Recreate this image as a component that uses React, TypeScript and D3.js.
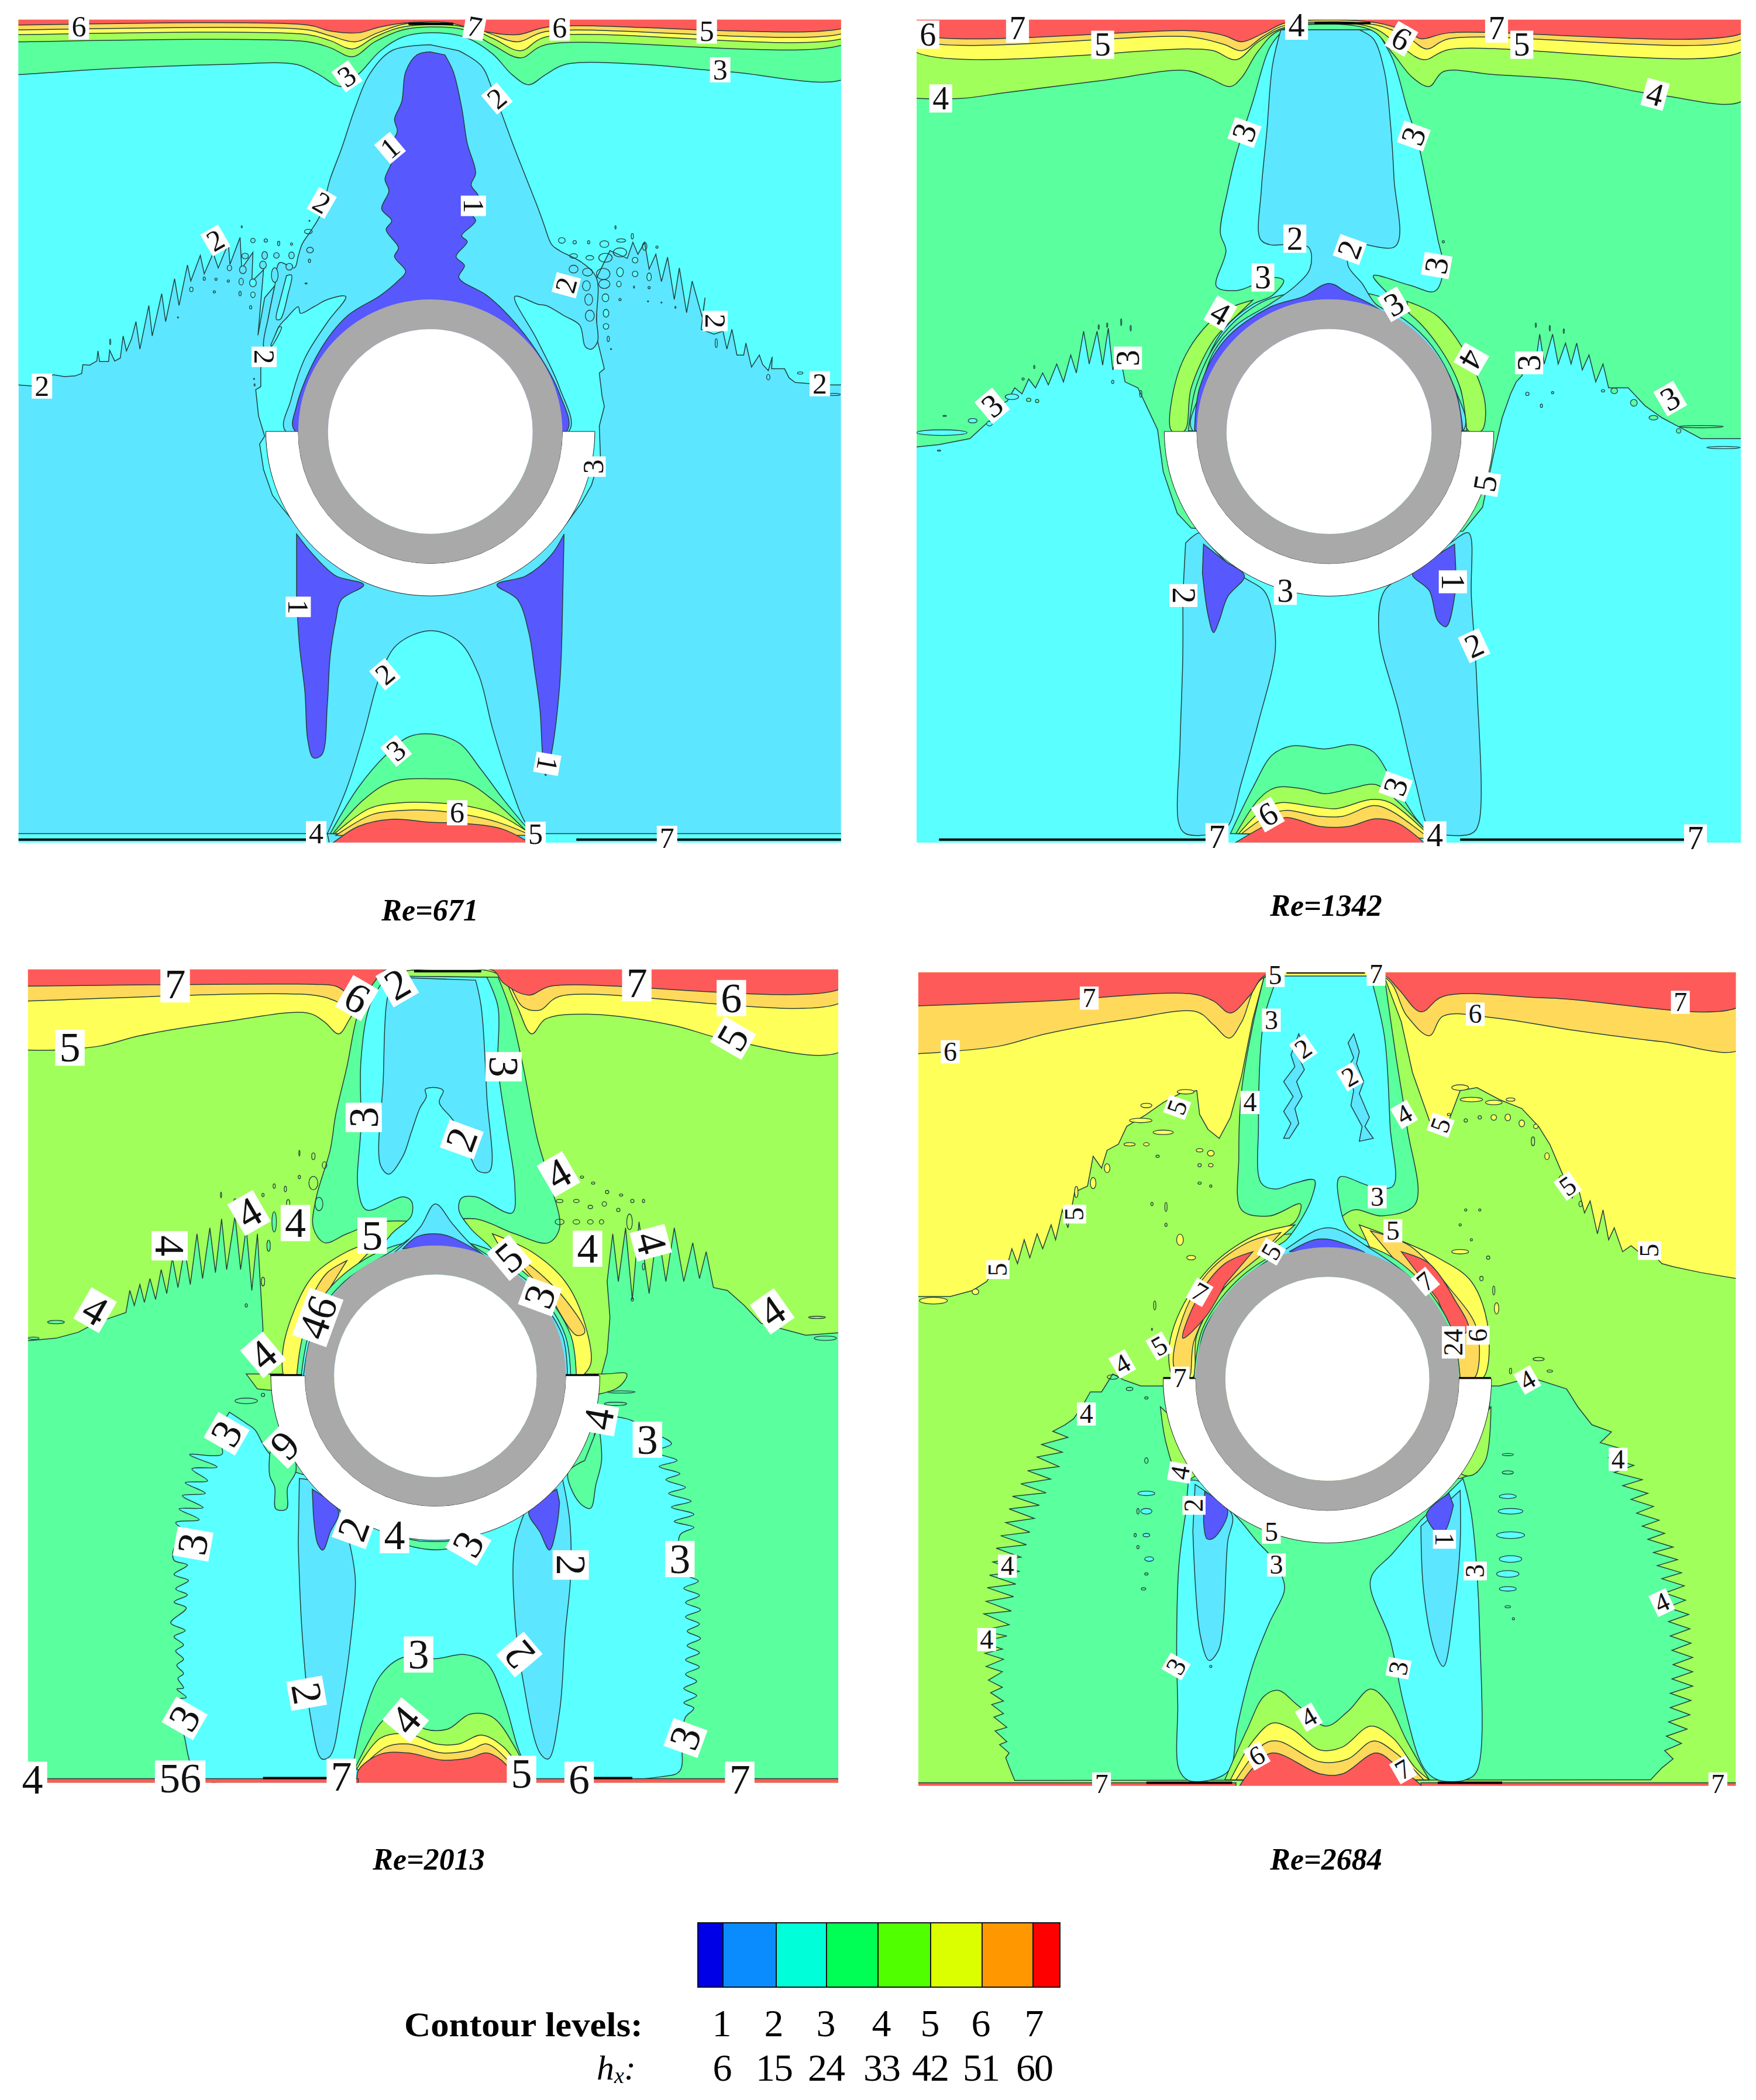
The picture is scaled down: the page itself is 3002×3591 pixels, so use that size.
import * as d3 from 'd3';

// Contour bands, low to high. Band n sits between contour levels n and n + 1.
const bandFills = ['#5858ff', '#5ce6ff', '#5affff', '#5aff9e', '#a0ff5a', '#ffff5a', '#ffd95a', '#ff5a5a'];
const legendFills = ['#0000e6', '#0a8cff', '#00ffd8', '#00ff55', '#50ff00', '#dcff00', '#ff9800', '#ff0000'];
const legendEdges = [1193, 1236, 1327, 1413, 1501, 1591, 1679, 1766, 1812];
const contourLevels = ['1', '2', '3', '4', '5', '6', '7'];
const hxValues = ['6', '15', '24', '33', '42', '51', '60'];
const legendTickX = [1234, 1323, 1412, 1507, 1590, 1677, 1768];

type Contour = { band: number; pts: number[]; sharp?: boolean };

// Coordinates below on a 0-1568 grid.
const re671Contours: Contour[] = [
  { band: 2, sharp: true, pts: [20,20, 20,645, 31,645, 60,647, 95,628, 115,631, 134,630, 146,626, 148,611, 160,612, 173,605, 175,588, 178,606, 194,606, 196,587, 205,605, 215,600, 220,563, 226,588, 235,568, 243,539, 250,585, 266,512, 272,563, 289,492, 296,539, 312,467, 320,512, 335,444, 341,471, 358,428, 365,459, 381,424, 390,449, 408,408, 411,443, 429,398, 432,450, 452,423, 450,472, 471,452, 461,562, 473,499, 491,479, 480,530, 473,578, 466,618, 466,648, 457,653, 462,697, 473,731, 464,744, 471,787, 487,830, 505,852, 530,880, 769,900, 1010,880, 1039,843, 1057,813, 1073,764, 1071,714, 1080,681, 1076,664, 1071,625, 1080,618, 1068,572, 1066,535, 1066,466, 1090,420, 1121,433, 1131,406, 1140,426, 1152,406, 1160,451, 1172,426, 1182,472, 1193,431, 1205,502, 1214,449, 1227,524, 1237,471, 1255,532, 1260,499, 1253,552, 1276,560, 1292,555, 1299,585, 1308,552, 1317,595, 1329,595, 1333,575, 1343,615, 1357,595, 1363,611, 1373,621, 1380,598, 1379,618, 1402,618, 1410,633, 1421,641, 1447,643, 1485,645, 1520,645, 1520,20] },
  { band: 1, pts: [769,75, 700,85, 660,125, 635,180, 610,250, 590,300, 572,361, 554,389, 540,409, 533,429, 526,449, 500,440, 491,479, 480,530, 471,580, 478,590, 485,580, 498,548, 513,532, 533,514, 537,525, 561,514, 585,502, 618,497, 585,540, 545,600, 520,670, 510,722, 769,740, 1017,722, 1000,650, 960,570, 920,497, 962,510, 976,512, 1008,529, 1036,545, 1046,581, 1057,585, 1068,572, 1066,535, 1066,466, 1040,440, 1000,420, 986,410, 972,376, 962,350, 920,250, 880,150, 860,110, 820,85] },
  { band: 2, pts: [512,462, 521,461, 515,492, 501,535, 494,535, 498,512] },
  { band: 2, pts: [498,548, 503,548, 485,580, 484,578] },
  { band: 0, pts: [769,87, 745,92, 725,120, 718,170, 705,200, 710,220, 695,250, 700,270, 688,300, 695,320, 682,350, 700,370, 690,385, 712,415, 705,430, 725,455, 712,470, 680,495, 620,530, 570,590, 530,680, 527,722, 769,740, 1013,722, 1000,660, 960,590, 910,530, 870,495, 820,465, 830,445, 815,430, 835,405, 825,395, 850,370, 835,350, 855,330, 842,310, 850,290, 835,240, 825,180, 810,120, 795,92] },
  { band: 0, pts: [530,895, 560,930, 600,965, 650,980, 610,1005, 600,1040, 590,1100, 585,1180, 575,1265, 560,1270, 550,1240, 545,1160, 535,1080, 530,1000] },
  { band: 0, pts: [1008,895, 985,930, 940,965, 888,980, 925,1005, 945,1060, 955,1120, 965,1190, 970,1270, 975,1300, 985,1265, 1000,1150, 1005,1030] },
  { band: 3, pts: [20,20, 20,125, 33,125, 200,115, 400,108, 530,108, 570,125, 610,145, 640,125, 680,85, 720,62, 769,55, 830,62, 880,90, 915,125, 945,142, 975,125, 1010,108, 1150,108, 1300,120, 1520,126, 1520,20] },
  { band: 4, pts: [20,20, 20,70, 33,70, 550,70, 590,80, 630,95, 670,70, 720,50, 769,45, 830,50, 880,75, 930,97, 975,75, 1520,68, 1520,20] },
  { band: 5, pts: [20,20, 20,58, 33,58, 550,58, 590,68, 630,82, 670,62, 720,45, 830,45, 880,64, 930,85, 975,62, 1520,58, 1520,20] },
  { band: 6, pts: [20,20, 20,50, 33,50, 550,50, 590,60, 635,70, 675,55, 725,40, 830,40, 875,56, 925,70, 975,53, 1520,50, 1520,20] },
  { band: 7, pts: [20,20, 20,42, 33,42, 550,42, 590,52, 640,55, 680,45, 730,38, 800,38, 860,52, 925,58, 980,45, 1520,42, 1520,20] },
  { band: 2, pts: [585,1397, 620,1320, 650,1230, 680,1130, 710,1080, 769,1057, 820,1075, 855,1130, 880,1220, 910,1310, 940,1380, 960,1397] },
  { band: 3, pts: [590,1397, 640,1320, 690,1265, 730,1235, 769,1230, 820,1245, 860,1290, 900,1340, 945,1390, 955,1397] },
  { band: 4, pts: [595,1397, 650,1340, 700,1310, 769,1305, 830,1310, 880,1340, 945,1397] },
  { band: 5, pts: [598,1397, 660,1355, 720,1345, 769,1345, 830,1350, 890,1365, 948,1397] },
  { band: 6, pts: [600,1400, 665,1365, 720,1358, 769,1358, 830,1365, 890,1378, 950,1400] },
  { band: 7, pts: [585,1420, 640,1385, 700,1373, 769,1378, 830,1380, 900,1390, 960,1420] },
  { band: 2, sharp: true, pts: [20,1397, 585,1397, 590,1420, 20,1420] },
  { band: 2, sharp: true, pts: [955,1397, 1520,1397, 1520,1420, 955,1420] },
];
const re671Specks = [
  [432,380,1,2], [452,403,4,4,1], [475,403,3,3,1], [498,408,2,4,1], [521,409,2,2], [553,370,1,1], [551,388,7,4], [554,419,6,5], [553,437,2,3], [521,428,5,6,1], [494,428,5,5,1], [517,447,6,6,1], [491,461,6,13,1], [473,428,5,7,1], [470,444,6,7,1], [438,429,6,5,1], [434,452,6,7,1], [431,472,4,6,1], [452,474,6,7,2], [452,494,4,5,2], [429,492,2,4], [410,449,4,5,1], [365,467,2,3], [386,468,2,2], [408,471,2,2], [342,485,3,4,2], [383,489,2,2], [448,515,2,3,2], [318,532,1,1], [197,573,1,5], [454,635,1,1], [455,645,1,2], [547,475,2,1],
  [1004,403,6,5], [1027,406,3,3], [1052,406,2,3], [1025,429,7,4], [1054,432,7,4], [1025,451,8,7], [1050,456,9,7], [1048,479,7,9], [1052,502,7,10], [1054,529,8,10], [1080,409,8,6], [1082,432,12,8], [1078,459,12,10], [1080,476,10,8], [1082,499,6,7,2], [1083,525,5,7,2], [1083,547,5,5,2], [1087,568,2,5], [1092,585,1,1], [1110,403,8,3], [1108,423,12,8], [1108,456,6,8,2], [1106,476,4,5,2], [1135,436,5,5,2], [1135,459,5,5,2], [1160,464,4,7,2], [1130,396,2,5], [1152,413,4,7], [1174,414,2,2], [1160,482,2,2], [1133,481,1,2], [1158,505,1,1], [1182,507,1,1], [1207,515,1,2], [1108,502,2,2], [1100,381,1,3], [1430,625,5,2], [1373,632,3,5], [1280,575,2,8], [1490,661,12,2],
];
const re671Lines = [[33,1407,550,1407], [1030,1407,1503,1407], [730,40,810,40]];
const re671Labels: [string, number, number, number][] = [
  ['6',141,45,0], ['7',848,45,10], ['6',1000,47,0], ['5',1263,52,0], ['3',1287,117,0], ['3',620,128,-35], ['2',888,165,-40], ['1',697,248,-40], ['2',575,340,30], ['1',846,345,90], ['2',385,403,-30], ['2',1012,478,-75], ['2',1278,538,90], ['2',472,598,90], ['2',75,647,0], ['2',1465,643,0], ['3',1060,782,-90], ['1',533,1017,90], ['2',688,1130,-40], ['3',708,1258,-40], ['6',817,1362,0], ['1',978,1280,100], ['4',565,1397,0], ['5',957,1398,0], ['7',1192,1405,0],
];

const re1342Contours: Contour[] = [
  { band: 2, sharp: true, pts: [60,750, 110,745, 165,735, 200,705, 215,680, 232,672, 245,650, 258,660, 270,635, 282,650, 295,625, 305,645, 320,610, 332,640, 345,595, 355,625, 368,555, 378,610, 392,555, 402,612, 412,550, 420,620, 432,590, 442,640, 465,650, 480,680, 500,720, 510,790, 535,860, 560,885, 806,900, 1045,890, 1080,850, 1100,760, 1115,700, 1130,660, 1140,640, 1150,630, 1162,600, 1172,625, 1182,560, 1190,610, 1205,560, 1215,610, 1228,575, 1238,610, 1248,575, 1258,620, 1270,595, 1282,640, 1295,610, 1305,650, 1340,650, 1370,680, 1400,700, 1430,715, 1470,735, 1550,735, 1550,1425, 60,1425] },
  { band: 2, pts: [725,50, 700,80, 670,170, 640,260, 625,320, 612,390, 622,420, 605,480, 640,487, 665,480, 700,465, 725,470, 705,495, 670,510, 620,550, 590,600, 575,660, 565,722, 1042,722, 1030,640, 1000,580, 950,530, 925,505, 885,462, 950,478, 995,488, 1010,450, 1000,400, 985,330, 965,240, 945,180, 920,100, 890,50] },
  { band: 4, pts: [670,503, 620,520, 570,565, 535,630, 525,722, 548,722, 560,650, 600,570, 640,530] },
  { band: 4, pts: [945,505, 1000,530, 1060,610, 1085,680, 1078,722, 1055,722, 1040,650, 1000,580, 950,530] },
  { band: 3, pts: [555,722, 568,650, 605,575, 655,525, 720,495, 890,495, 955,530, 1005,585, 1040,650, 1052,722] },
  { band: 1, pts: [720,50, 705,110, 695,220, 685,320, 683,400, 700,410, 730,410, 770,415, 772,450, 745,480, 700,510, 640,545, 600,590, 575,660, 563,722, 1045,722, 1030,650, 990,580, 940,535, 890,510, 865,475, 840,445, 845,410, 925,412, 922,300, 915,200, 905,120, 885,65, 860,50] },
  { band: 0, pts: [566,722, 575,650, 620,570, 700,515, 760,497, 806,475, 838,490, 890,515, 980,580, 1030,650, 1045,722] },
  { band: 4, pts: [60,20, 60,165, 70,165, 150,165, 230,155, 400,135, 550,118, 590,130, 630,145, 650,130, 680,85, 720,50, 880,50, 920,90, 955,130, 985,145, 1010,120, 1100,125, 1250,135, 1400,160, 1550,165, 1550,20] },
  { band: 5, pts: [60,20, 60,82, 560,82, 600,85, 640,100, 680,70, 730,45, 880,45, 930,75, 975,100, 1020,83, 1550,82, 1550,20] },
  { band: 6, pts: [60,20, 60,62, 560,62, 620,75, 650,85, 690,60, 730,42, 890,42, 950,65, 980,82, 1020,65, 1550,62, 1550,20] },
  { band: 7, pts: [60,20, 60,52, 570,52, 620,60, 650,70, 690,55, 730,38, 890,38, 950,55, 970,65, 1020,55, 1550,52, 1550,20] },
  { band: 1, pts: [550,910, 575,893, 590,910, 650,965, 690,990, 705,1030, 710,1090, 680,1210, 650,1310, 625,1385, 600,1397, 550,1397, 538,1380, 540,1250, 545,1100, 545,1000] },
  { band: 1, pts: [1030,905, 1055,893, 1060,1000, 1070,1150, 1073,1380, 1060,1397, 1000,1397, 985,1390, 960,1310, 930,1190, 895,1060, 905,990, 950,960] },
  { band: 0, pts: [582,912, 620,940, 655,965, 625,1000, 610,1040, 600,1060, 590,1030, 580,960] },
  { band: 0, pts: [1030,912, 1000,930, 955,962, 985,990, 1000,1040, 1015,1050, 1030,1000, 1032,950] },
  { band: 3, pts: [630,1397, 670,1320, 705,1265, 740,1250, 800,1255, 850,1248, 885,1260, 920,1310, 960,1370, 985,1397] },
  { band: 4, pts: [640,1397, 680,1340, 710,1320, 760,1322, 800,1330, 850,1320, 890,1315, 925,1340, 985,1397] },
  { band: 5, pts: [645,1397, 690,1355, 720,1345, 780,1352, 820,1355, 880,1340, 915,1345, 985,1400] },
  { band: 6, pts: [650,1397, 700,1365, 730,1358, 790,1368, 830,1368, 885,1350, 915,1358, 985,1405] },
  { band: 7, pts: [625,1420, 700,1380, 730,1370, 790,1385, 840,1385, 890,1372, 930,1380, 985,1420] },
];
const re1342Specks = [
  [120,697,3,1], [115,725,45,5,2], [110,755,3,1], [170,705,8,4,2], [200,710,5,4,2], [240,665,12,5,2], [270,670,4,3,3], [285,672,3,3,3], [260,635,2,2], [280,615,1,3], [395,548,1,4], [410,545,1,4], [435,540,1,6], [452,550,1,5], [420,640,2,3], [470,660,2,6],
  [1175,545,1,4], [1200,550,1,5], [1225,555,1,4], [1160,660,3,3], [1185,680,2,3], [1205,658,2,2], [1295,655,3,2], [1315,655,6,5,3], [1350,675,6,6,3], [1385,700,8,4,3], [1430,722,4,4,3], [1470,715,40,2], [1510,750,30,2], [1010,405,2,2],
];
const re1342Lines = [[110,1407,590,1407], [1040,1407,1450,1407], [780,39,880,39]];
const re1342Labels: [string, number, number, number][] = [
  ['6',90,58,0], ['7',250,48,0], ['5',402,75,0], ['4',748,43,0], ['6',935,65,30], ['7',1105,48,0], ['5',1150,75,0], ['4',113,165,0], ['4',1388,158,15], ['3',655,222,-70], ['3',957,228,-70], ['2',745,400,0], ['2',843,418,-70], ['3',688,465,0], ['3',998,445,-80], ['4',612,525,30], ['3',922,510,-30], ['4',1060,602,120], ['3',447,600,-90], ['3',1163,608,-90], ['3',205,680,-40], ['3',1415,668,-30], ['5',1085,810,-80], ['2',546,998,90], ['3',728,990,0], ['1',1027,975,90], ['2',1065,1082,-25], ['6',697,1365,-30], ['3',925,1318,-70], ['7',606,1403,0], ['4',995,1400,0], ['7',1460,1405,0],
];

const re2013Contours: Contour[] = [
  { band: 3, sharp: true, pts: [40,660, 100,655, 140,645, 170,630, 200,620, 225,612, 232,575, 240,600, 250,565, 258,595, 268,555, 278,590, 288,540, 298,580, 308,520, 318,570, 330,505, 340,565, 352,480, 362,555, 375,470, 385,545, 396,455, 405,540, 420,450, 430,540, 440,470, 450,575, 460,480, 470,640, 465,690, 480,715, 778,730, 1075,715, 1085,680, 1090,620, 1085,560, 1095,480, 1105,560, 1118,470, 1130,590, 1142,460, 1160,580, 1175,470, 1190,560, 1205,470, 1222,560, 1238,495, 1250,555, 1262,510, 1275,570, 1300,575, 1330,600, 1360,630, 1400,640, 1440,650, 1510,645, 1510,1410, 40,1410] },
  { band: 4, pts: [440,715, 480,715, 1075,715, 1120,715, 1100,740, 778,760, 460,740] },
  { band: 3, pts: [670,48, 640,110, 620,200, 600,280, 590,340, 565,420, 560,470, 580,495, 620,480, 680,460, 778,460, 850,455, 920,480, 980,495, 1000,470, 985,400, 960,320, 935,200, 910,100, 890,50] },
  { band: 2, pts: [690,48, 660,100, 645,190, 645,300, 640,405, 655,440, 720,418, 735,425, 735,450, 700,480, 680,510, 778,500, 880,510, 840,470, 820,440, 825,420, 850,418, 915,445, 920,400, 905,300, 890,200, 890,100, 870,50] },
  { band: 1, pts: [700,50, 690,100, 685,220, 680,365, 695,380, 720,350, 735,310, 750,270, 762,250, 760,238, 778,235, 792,240, 785,260, 810,290, 840,350, 855,375, 875,375, 870,250, 860,100, 850,55] },
  { band: 5, pts: [680,490, 620,510, 560,550, 525,610, 505,680, 510,722, 530,722, 545,650, 580,580, 640,530] },
  { band: 6, pts: [620,525, 585,545, 555,590, 535,640, 550,620, 590,570] },
  { band: 5, pts: [880,480, 950,510, 1010,560, 1045,630, 1055,700, 1030,722, 1015,650, 970,580, 910,530] },
  { band: 6, pts: [915,515, 950,535, 1010,590, 1045,645, 1030,650, 990,595] },
  { band: 3, pts: [530,722, 545,640, 600,560, 690,505, 778,490, 870,505, 960,565, 1020,650, 1030,722] },
  { band: 2, pts: [538,722, 555,640, 610,565, 695,512, 778,470, 865,512, 955,570, 1010,650, 1020,722] },
  { band: 1, pts: [542,722, 560,640, 620,565, 700,515, 750,470, 778,430, 810,465, 850,505, 945,570, 1005,650, 1014,722] },
  { band: 0, pts: [720,505, 745,485, 778,480, 805,485, 860,515, 778,500] },
  { band: 2, pts: [410,779, 439,797, 456,809, 469,831, 482,849, 530,880, 778,900, 1045,870, 1060,830, 1070,790, 1120,790, 1165,812, 1200,832, 1170,845, 1210,860, 1178,870, 1215,882, 1190,892, 1225,905, 1195,915, 1235,928, 1200,938, 1240,950, 1205,962, 1240,972, 1215,985, 1225,1050, 1248,1062, 1222,1074, 1250,1086, 1225,1098, 1252,1110, 1225,1122, 1250,1134, 1228,1146, 1252,1158, 1228,1170, 1250,1182, 1225,1194, 1250,1206, 1225,1218, 1245,1230, 1222,1242, 1245,1254, 1222,1266, 1240,1275, 1225,1290, 1218,1320, 1215,1380, 1180,1390, 350,1390, 337,1357, 331,1329, 318,1261, 333,1257, 316,1243, 328,1241, 318,1225, 328,1217, 316,1203, 328,1193, 314,1179, 328,1169, 311,1155, 331,1145, 305,1132, 333,1107, 311,1097, 335,1085, 314,1075, 337,1061, 311,1051, 335,1035, 311,1027, 311,1007, 337,985, 314,964, 356,959, 320,941, 363,939, 326,919, 367,915, 331,897, 371,894, 343,874, 388,871, 339,850, 397,849, 385,815] },
  { band: 3, pts: [482,849, 482,885, 491,905, 493,941, 512,941, 514,905, 529,877, 520,840, 490,820] },
  { band: 3, pts: [1045,860, 1015,880, 1035,930, 1055,940, 1065,900, 1075,860, 1070,800] },
  { band: 1, pts: [535,890, 575,900, 610,950, 625,1000, 635,1060, 628,1150, 610,1270, 590,1355, 575,1360, 555,1290, 540,1150, 533,1000] },
  { band: 1, pts: [1005,890, 1018,960, 1020,1050, 1010,1150, 1000,1280, 980,1360, 965,1350, 935,1230, 920,1120, 920,1000, 945,930] },
  { band: 0, pts: [558,908, 605,945, 590,980, 577,1010, 568,1000, 560,950] },
  { band: 0, pts: [995,908, 945,945, 965,980, 982,1010, 995,970, 1000,930] },
  { band: 3, pts: [690,985, 740,1005, 800,1008, 860,985, 800,995, 750,995] },
  { band: 5, pts: [20,20, 20,172, 40,172, 100,172, 180,165, 250,148, 400,125, 550,110, 580,125, 605,145, 625,120, 660,60, 690,45, 890,45, 920,90, 950,145, 975,120, 1050,112, 1200,130, 1300,155, 1510,170, 1510,20] },
  { band: 6, pts: [20,20, 20,90, 40,90, 560,80, 600,90, 630,105, 665,60, 690,42, 890,42, 935,100, 965,105, 1000,82, 1510,88, 1510,20] },
  { band: 7, pts: [20,20, 20,65, 40,65, 560,62, 600,65, 640,85, 680,45, 690,38, 880,38, 900,60, 945,80, 985,65, 1510,65, 1510,20] },
  { band: 3, pts: [630,1375, 650,1290, 680,1220, 720,1190, 780,1192, 830,1185, 870,1200, 900,1260, 925,1340, 940,1375] },
  { band: 4, pts: [635,1375, 680,1300, 710,1280, 760,1310, 800,1310, 840,1285, 880,1290, 920,1340, 945,1390] },
  { band: 5, pts: [637,1378, 680,1325, 730,1318, 780,1335, 820,1335, 860,1320, 900,1340, 935,1385] },
  { band: 6, pts: [640,1380, 690,1340, 730,1335, 790,1350, 840,1345, 870,1335, 910,1365, 930,1390] },
  { band: 7, pts: [640,1410, 640,1380, 680,1352, 730,1350, 790,1362, 840,1358, 870,1350, 905,1370, 925,1410] },
  { band: 7, sharp: true, pts: [20,1393, 640,1393, 640,1420, 20,1420] },
  { band: 7, sharp: true, pts: [925,1393, 1520,1393, 1520,1420, 925,1420] },
];
const re2013Specks = [
  [395,415,1,5], [420,425,2,4], [470,415,2,3], [490,400,2,4], [510,405,2,5], [535,385,2,3], [535,345,1,5], [560,350,3,6], [560,395,8,12], [580,365,4,6], [570,430,7,12], [490,460,4,18,3], [515,430,3,8], [480,500,3,10,3], [470,560,3,8], [440,600,2,3],
  [1005,345,1,2], [1020,385,3,2], [1040,385,3,2], [1060,395,3,2], [1085,410,3,3], [1110,415,3,2], [1000,425,6,3], [1030,425,5,3], [1055,435,4,3], [1080,430,4,4], [1105,440,3,3], [1130,425,3,3], [1150,425,2,3], [1000,460,8,5], [1030,460,6,4], [1055,460,5,4], [1075,460,4,4], [1125,460,5,14], [1150,535,2,6], [1130,590,2,3],
  [1460,620,15,2], [1475,655,20,4,3], [100,628,15,3,3], [60,655,10,2,3], [1110,745,25,2], [1100,765,20,3], [440,760,20,5], [470,750,3,3],
];
const re2013Lines = [[470,1392,590,1392], [1060,1392,1130,1392], [740,40,860,40], [483,717,540,717], [1010,717,1070,717]];
const re2013Labels: [string, number, number, number][] = [
  ['7',313,62,0], ['6',638,85,30], ['2',710,62,-30], ['7',1138,60,0], ['6',1307,85,0], ['5',125,168,0], ['5',1310,152,-60], ['3',900,200,90], ['3',650,285,-90], ['2',825,322,-70], ['4',998,380,-30], ['4',445,445,-30], ['4',528,462,0], ['4',303,500,90], ['5',665,483,0], ['5',910,520,-40], ['4',1050,505,0], ['4',1163,495,75], ['4',170,608,30], ['4',1380,610,-35], ['46',568,620,-70], ['3',965,585,-70], ['4',470,683,-40], ['4',1070,790,-80], ['3',405,815,-60], ['3',1157,825,0], ['6',510,835,135], ['2',632,975,-70], ['4',705,985,0], ['3',837,1000,-60], ['2',1020,1035,90], ['3',345,1000,-80], ['3',1215,1025,0], ['3',748,1185,0], ['2',928,1185,-130], ['2',548,1250,80], ['4',725,1295,-50], ['3',330,1292,-60], ['3',1225,1325,-70], ['4',58,1395,0], ['56',322,1393,0], ['7',610,1390,0], ['5',932,1385,0], ['6',1035,1395,0], ['7',1322,1395,0],
];

const re2684Contours: Contour[] = [
  { band: 5, sharp: true, pts: [60,585, 73,585, 130,585, 170,575, 195,560, 215,530, 228,545, 240,505, 250,530, 262,490, 272,520, 285,480, 295,505, 310,465, 318,490, 330,440, 340,470, 352,410, 375,400, 385,350, 400,370, 410,340, 430,330, 445,300, 480,280, 510,260, 540,245, 570,240, 575,280, 590,305, 610,320, 630,285, 650,215, 670,120, 690,50, 905,50, 935,125, 955,210, 985,290, 1000,310, 1020,290, 1040,240, 1070,235, 1110,255, 1150,270, 1180,300, 1200,330, 1225,385, 1240,420, 1250,400, 1262,445, 1272,425, 1285,480, 1295,440, 1305,490, 1315,470, 1330,510, 1345,500, 1365,515, 1380,510, 1400,530, 1420,535, 1470,545, 1545,557, 1545,20, 60,20] },
  { band: 3, pts: [690,50, 670,130, 650,240, 645,350, 650,440, 700,450, 755,430, 745,460, 700,480, 800,470, 850,440, 900,450, 960,430, 945,300, 925,180, 905,50] },
  { band: 2, pts: [715,48, 690,120, 680,300, 685,395, 710,405, 745,395, 780,390, 775,420, 760,450, 730,490, 700,510, 900,510, 840,470, 825,430, 825,385, 880,400, 920,400, 915,300, 905,150, 880,48] },
  { band: 1, sharp: true, pts: [752,145, 760,165, 750,180, 762,205, 748,225, 758,250, 745,270, 752,295, 735,320, 725,320, 738,295, 725,275, 742,250, 725,225, 745,200, 738,180] },
  { band: 1, sharp: true, pts: [850,145, 860,175, 855,195, 868,225, 860,245, 878,285, 870,300, 885,320, 860,325, 865,300, 845,265, 850,240, 838,205, 850,185, 840,160] },
  { band: 5, pts: [745,465, 680,480, 600,530, 540,610, 520,680, 530,722, 562,722, 570,650, 620,570, 690,510] },
  { band: 6, pts: [720,478, 660,495, 590,545, 545,620, 530,705, 555,722, 565,660, 610,580, 680,520] },
  { band: 7, pts: [670,510, 620,530, 570,590, 545,655, 585,620, 620,565] },
  { band: 5, pts: [860,465, 930,490, 1000,520, 1060,560, 1090,640, 1080,722, 1035,722, 1010,640, 960,560, 880,505] },
  { band: 6, pts: [880,475, 950,500, 1020,570, 1070,640, 1065,722, 1040,722, 1030,660, 980,580, 920,520] },
  { band: 7, pts: [935,510, 985,530, 1030,590, 1055,640, 1035,650, 1000,590] },
  { band: 3, pts: [565,722, 580,640, 640,560, 720,510, 804,490, 900,510, 970,560, 1025,640, 1040,722] },
  { band: 1, pts: [569,722, 584,640, 645,563, 725,508, 804,470, 885,508, 968,568, 1020,640, 1037,722] },
  { band: 0, pts: [735,510, 780,490, 810,490, 870,512, 800,505] },
  { band: 3, sharp: true, pts: [510,735, 470,735, 440,725, 420,715, 400,745, 380,745, 365,770, 350,790, 335,800, 313,811, 340,821, 293,833, 330,846, 285,854, 324,870, 268,877, 309,891, 256,899, 301,914, 241,920, 289,935, 235,941, 280,957, 229,964, 272,980, 220,986, 266,1001, 212,1007, 256,1022, 206,1030, 254,1046, 200,1052, 247,1067, 196,1073, 243,1088, 194,1096, 239,1112, 190,1117, 235,1135, 185,1145, 231,1154, 185,1164, 223,1176, 192,1183, 225,1193, 194,1205, 223,1214, 198,1228, 223,1240, 202,1249, 225,1263, 204,1269, 225,1284, 208,1290, 231,1307, 210,1313, 231,1331, 218,1336, 235,1350, 229,1358, 235,1373, 245,1396, 1380,1395, 1400,1375, 1420,1360, 1405,1346, 1435,1334, 1408,1322, 1445,1310, 1412,1298, 1450,1286, 1415,1274, 1452,1262, 1415,1250, 1455,1238, 1418,1226, 1455,1214, 1420,1202, 1455,1190, 1418,1178, 1452,1166, 1415,1154, 1450,1142, 1412,1130, 1448,1118, 1410,1106, 1442,1094, 1405,1082, 1440,1070, 1400,1058, 1435,1048, 1392,1036, 1428,1026, 1385,1014, 1420,1005, 1375,992, 1405,982, 1365,970, 1395,960, 1355,948, 1385,937, 1345,925, 1375,915, 1330,902, 1365,892, 1315,880, 1350,868, 1305,855, 1335,842, 1290,830, 1310,812, 1275,800, 1250,770, 1230,740, 1180,725, 1150,725, 1110,735, 1095,735, 1090,800, 1070,880, 1040,890, 800,900] },
  { band: 4, pts: [505,770, 515,830, 535,880, 560,890, 580,860, 540,800] },
  { band: 4, pts: [1095,770, 1085,860, 1060,885, 1040,880, 1070,800] },
  { band: 2, pts: [555,893, 575,895, 642,955, 679,997, 699,1017, 724,1059, 726,1079, 699,1133, 670,1203, 642,1307, 629,1377, 600,1394, 555,1396, 538,1377, 536,1269, 534,1172, 538,1036, 550,950] },
  { band: 2, pts: [1045,890, 1060,950, 1075,1150, 1070,1380, 1050,1395, 1000,1395, 975,1375, 940,1270, 915,1160, 880,1060, 920,1015, 970,960] },
  { band: 1, pts: [567,900, 590,915, 633,951, 625,997, 617,1133, 608,1179, 592,1195, 576,1152, 563,978] },
  { band: 1, pts: [1040,910, 1040,1000, 1030,1100, 1010,1205, 995,1180, 975,1080, 970,970] },
  { band: 0, pts: [584,912, 625,943, 600,990, 588,991, 582,959] },
  { band: 0, pts: [1020,915, 980,950, 1005,985, 1015,975, 1028,935] },
  { band: 6, pts: [60,20, 60,178, 73,178, 125,175, 220,165, 300,145, 450,120, 570,108, 600,130, 628,152, 650,125, 690,50, 905,50, 945,115, 985,148, 1010,115, 1100,118, 1250,140, 1400,158, 1545,168, 1545,20] },
  { band: 7, pts: [60,20, 60,98, 73,98, 300,90, 560,78, 600,90, 630,110, 665,80, 695,45, 900,45, 930,70, 970,108, 1010,82, 1200,85, 1545,95, 1545,20] },
  { band: 4, pts: [620,1395, 660,1310, 690,1255, 715,1245, 750,1270, 800,1305, 840,1280, 880,1243, 910,1265, 945,1330, 985,1395] },
  { band: 5, pts: [630,1395, 670,1330, 705,1300, 740,1310, 790,1345, 830,1340, 880,1305, 920,1325, 960,1375, 985,1395] },
  { band: 6, pts: [640,1395, 690,1335, 715,1330, 790,1365, 840,1360, 885,1330, 925,1350, 975,1395] },
  { band: 7, pts: [640,1415, 670,1375, 705,1350, 790,1385, 830,1385, 890,1350, 925,1370, 985,1415] },
  { band: 7, sharp: true, pts: [50,1400, 640,1400, 640,1420, 50,1420] },
  { band: 7, sharp: true, pts: [970,1400, 1550,1400, 1550,1420, 970,1420] },
];
const re2684Specks = [
  [550,242,15,4,5], [480,265,10,4,5], [470,290,20,4,5], [510,310,18,4,5], [480,330,5,3,5], [450,330,10,3,5], [410,370,5,8,5], [385,395,5,10,5], [355,410,3,10,5], [500,350,3,2], [575,340,6,3,5], [575,365,3,3], [595,345,6,5,5], [595,365,4,3,5], [575,395,3,2], [595,400,2,2], [515,435,2,8], [490,430,2,3], [515,465,2,3], [495,600,2,8], [490,640,1,2], [540,490,6,10,5], [560,520,8,4,5],
  [1040,235,15,5,5], [1060,255,20,4,5], [1100,260,15,4,5], [1130,255,8,3,5], [1020,280,3,2], [1050,290,3,3], [1075,285,3,3], [1100,285,5,5,5], [1125,285,5,6,5], [1150,295,5,6,5], [1175,300,4,4,5], [1170,325,3,8], [1195,350,4,6,5], [1220,390,4,8,5], [1255,430,3,5], [1050,440,2,2], [1075,440,2,2], [1040,465,2,2], [1060,490,2,2], [1090,520,3,3], [1040,510,15,4,5], [1078,555,3,4], [1105,605,4,10,5], [1100,575,2,8],
  [1125,920,15,4,2], [1130,945,22,5,2], [1130,985,25,6,2], [1130,1025,20,6,2], [1125,1050,20,6,2], [1125,1075,15,4,2], [1125,1105,5,2], [1125,850,10,2], [1125,880,10,3], [1135,1125,2,2],
  [480,915,15,4,2], [480,945,10,5,2], [480,985,6,3,2], [485,1025,8,4,2], [475,1075,4,2], [480,1050,3,2], [460,985,2,3], [465,1005,2,3], [465,945,2,5], [480,860,3,5], [595,1205,2,2],
  [100,592,25,6,5], [175,577,6,5,5], [1180,690,10,3], [1130,710,2,5], [1200,710,5,2], [420,720,10,4], [450,740,6,3], [480,755,3,2],
];
const re2684Lines = [[480,1400,633,1400], [1000,1400,1115,1400], [730,42,870,42], [510,722,565,722], [1037,722,1095,722]];
const re2684Labels: [string, number, number, number][] = [
  ['5',710,47,0], ['7',890,45,0], ['7',378,85,0], ['7',1433,92,0], ['3',703,122,0], ['6',1067,112,0], ['6',130,175,0], ['2',760,170,-35], ['2',843,217,-30], ['4',665,260,0], ['4',940,280,-30], ['5',535,268,-70], ['5',1005,298,-70], ['3',892,418,0], ['5',1232,400,-35], ['5',352,447,-90], ['5',920,475,0], ['5',703,510,-60], ['5',1378,508,-90], ['5',215,540,-90], ['7',575,578,30], ['7',978,560,-40], ['6',1072,650,-90], ['24',1028,662,-90], ['5',503,668,-30], ['4',437,698,-30], ['7',540,722,0], ['4',1160,725,-30], ['4',373,782,0], ['4',1322,858,0], ['4',540,880,-80], ['2',565,935,-90], ['1',1012,992,90], ['5',703,980,0], ['3',712,1035,0], ['3',1067,1045,-90], ['4',232,1037,0], ['4',1400,1098,-25], ['4',195,1160,0], ['3',533,1205,-60], ['3',930,1208,-80], ['4',770,1290,-30], ['6',677,1355,-30], ['7',938,1378,-30], ['7',400,1402,0], ['7',1500,1402,0],
];

type PanelProps = {
  title: string;
  titleX: number;
  titleY: number;
  crop: number[]; // pixel box the 0-1568 grid maps to
  frame: number[]; // x0, y0, x1, y1 on the grid
  base: number;
  center: number[];
  radii: number[]; // white core, grey ring, half moon
  contours: Contour[];
  specks: number[][];
  lines: number[][];
  labels: [string, number, number, number][];
  fontSize: number;
  id: string;
};

const outline = '#24403f';
const serif = '"Liberation Serif", serif';

function Panel(p: PanelProps) {
  const sx = d3.scaleLinear().domain([0, 1568]).range([p.crop[0], p.crop[0] + p.crop[2]]);
  const sy = d3.scaleLinear().domain([0, 1568]).range([p.crop[1], p.crop[1] + p.crop[3]]);
  const line = d3
    .line<number[]>()
    .x((d) => sx(d[0]))
    .y((d) => sy(d[1]));
  const smooth = d3.curveCatmullRom.alpha(0.5);
  const toPairs = (a: number[]) => d3.range(0, a.length, 2).map((i) => [a[i], a[i + 1]]);
  const [fx0, fy0, fx1, fy1] = p.frame;
  const cx = sx(p.center[0]);
  const cy = sy(p.center[1]);
  const px = (r: number) => sx(r) - sx(0);
  const moon = d3.arc()({
    innerRadius: px(p.radii[1]),
    outerRadius: px(p.radii[2]),
    startAngle: Math.PI / 2,
    endAngle: (3 * Math.PI) / 2,
  } as any);
  const ring = d3.arc()({
    innerRadius: px(p.radii[0]),
    outerRadius: px(p.radii[1]),
    startAngle: 0,
    endAngle: 2 * Math.PI,
  } as any);
  return (
    <g>
      <defs>
        <clipPath id={p.id}>
          <rect x={sx(fx0)} y={sy(fy0)} width={sx(fx1) - sx(fx0)} height={sy(fy1) - sy(fy0)} />
        </clipPath>
      </defs>
      <g clipPath={`url(#${p.id})`}>
        <rect x={sx(fx0)} y={sy(fy0)} width={sx(fx1) - sx(fx0)} height={sy(fy1) - sy(fy0)} fill={bandFills[p.base]} />
        {p.contours.map((c, i) => (
          <path
            key={i}
            d={line.curve(c.sharp ? d3.curveLinear : smooth)(toPairs(c.pts)) + 'Z'}
            fill={bandFills[c.band]}
            stroke={outline}
            strokeWidth={1.5}
          />
        ))}
        {p.specks.map((s, i) => (
          <ellipse
            key={i}
            cx={sx(s[0])}
            cy={sy(s[1])}
            rx={px(s[2])}
            ry={px(s[3])}
            fill={s[4] === undefined ? 'none' : bandFills[s[4]]}
            stroke={outline}
            strokeWidth={1.3}
          />
        ))}
        {p.lines.map((l, i) => (
          <line key={i} x1={sx(l[0])} y1={sy(l[1])} x2={sx(l[2])} y2={sy(l[3])} stroke="#000" strokeWidth={4} />
        ))}
      </g>
      <g transform={`translate(${cx},${cy})`}>
        <path d={moon as string} fill="#fff" stroke="#222" strokeWidth={1} />
        <path d={ring as string} fill="#a9a9a9" />
        <circle r={px(p.radii[0])} fill="#fff" />
      </g>
      {p.labels.map(([t, x, y, a], i) => {
        const w = p.fontSize * (0.2 + 0.5 * t.length);
        const h = p.fontSize * 0.86;
        return (
          <g key={i} transform={`translate(${sx(x)},${sy(y)}) rotate(${a})`}>
            <rect x={-w / 2} y={-h / 2} width={w} height={h} fill="#fff" />
            <text textAnchor="middle" y={p.fontSize * 0.33} fontFamily={serif} fontSize={p.fontSize} fill="#111">
              {t}
            </text>
          </g>
        );
      })}
      <text x={p.titleX} y={p.titleY} textAnchor="middle" fontFamily={serif} fontWeight="bold" fontStyle="italic" fontSize={52} fill="#000">
        {p.title}
      </text>
    </g>
  );
}

function Legend() {
  const serifProps = { fontFamily: serif, fill: '#000' };
  return (
    <g>
      {legendFills.map((f, i) => (
        <rect key={f} x={legendEdges[i]} y={3288} width={legendEdges[i + 1] - legendEdges[i]} height={110} fill={f} stroke="#111" strokeWidth={2} />
      ))}
      <text x={691} y={3482} fontWeight="bold" fontSize={60} textLength={408} lengthAdjust="spacingAndGlyphs" {...serifProps}>
        Contour levels:
      </text>
      <text x={1020} y={3556} fontStyle="italic" fontSize={60} {...serifProps}>
        h<tspan fontSize={38} dy={6}>x</tspan>
        <tspan dy={-6}>:</tspan>
      </text>
      {contourLevels.map((t, i) => (
        <text key={t} x={legendTickX[i]} y={3482} textAnchor="middle" fontSize={66} {...serifProps}>
          {t}
        </text>
      ))}
      {hxValues.map((t, i) => (
        <text key={t} x={legendTickX[i]} y={3558} textAnchor="middle" fontSize={66} letterSpacing={-2} {...serifProps}>
          {t}
        </text>
      ))}
    </g>
  );
}

export default function App() {
  return (
    <svg
      width={3002}
      height={3591}
      viewBox="0 0 3002 3591"
      style={{ position: 'absolute', left: 0, top: 0, display: 'block', background: '#fff' }}
    >
      <Panel id="p1" title="Re=671" titleX={735} titleY={1574} crop={[0, 0, 1500, 1600]} frame={[33, 33, 1503, 1412]} base={1} center={[769, 723]} radii={[183, 236, 294]} contours={re671Contours} specks={re671Specks} lines={re671Lines} labels={re671Labels} fontSize={50} />
      <Panel id="p2" title="Re=1342" titleX={2267} titleY={1566} crop={[1500, 0, 1502, 1600]} frame={[70, 33, 1541, 1412]} base={3} center={[806, 723]} radii={[183, 236, 294]} contours={re1342Contours} specks={re1342Specks} lines={re1342Lines} labels={re1342Labels} fontSize={56} />
      <Panel id="p3" title="Re=2013" titleX={733} titleY={3197} crop={[0, 1620, 1500, 1600]} frame={[50, 37, 1498, 1400]} base={4} center={[778, 718]} radii={[181, 233, 294]} contours={re2013Contours} specks={re2013Specks} lines={re2013Lines} labels={re2013Labels} fontSize={72} />
      <Panel id="p4" title="Re=2684" titleX={2267} titleY={3197} crop={[1500, 1620, 1502, 1600]} frame={[73, 42, 1532, 1405]} base={4} center={[803, 723]} radii={[182, 235, 293]} contours={re2684Contours} specks={re2684Specks} lines={re2684Lines} labels={re2684Labels} fontSize={46} />
      <Legend />
    </svg>
  );
}
